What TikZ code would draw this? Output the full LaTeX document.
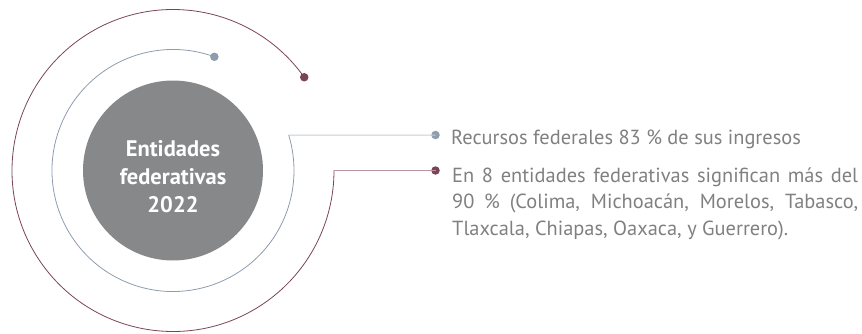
\documentclass[tikz,border=0pt]{standalone}
\usepackage{fontspec}
\setmainfont{PT Sans}
\usetikzlibrary{calc}
\definecolor{ringA}{HTML}{8E9CAC}
\definecolor{lineA}{HTML}{C9CDD3}
\definecolor{ringB}{HTML}{7A4457}
\definecolor{lineB}{HTML}{B8959F}
\definecolor{discfill}{HTML}{87888A}
\definecolor{txtgray}{HTML}{808080}
\begin{document}
\begin{tikzpicture}[x=1pt,y=1pt,
  dotA/.style={circle,fill=ringA,inner sep=0pt,minimum size=8.5pt},
  dotB/.style={circle,fill=ringB,inner sep=0pt,minimum size=8.5pt},
  bodytext/.style={anchor=base west,inner sep=0pt,text=txtgray,font=\fontsize{20.4}{25}\selectfont}]
\useasboundingbox (0,0) rectangle (862,333);
\coordinate (C) at (173,162.5);
\node[circle,fill=discfill,minimum size=180pt,inner sep=0pt] (disc) at (C) {};
\node[text=white,align=center,font=\bfseries\fontsize{22.5}{28}\selectfont] (title) at (173,156) {Entidades\\federativas\\2022};
% inner ring
\node[dotA] (dA) at ($(C)+(70:121)$) {};
\coordinate (jA) at ($(C)+(17:121)$);
\draw[ringA,line width=0.8pt] (dA.center) arc[start angle=70,end angle=377,radius=121];
\node[dotA] (eA) at (435.5,198) {};
\draw[lineA,line width=1pt] (jA) -- (eA.center);
% outer ring
\node[dotB] (dB) at ($(C)+(35.4:161)$) {};
\coordinate (jB) at ($(C)+(0:161)$);
\draw[ringB,line width=0.8pt] (dB.center) arc[start angle=35.4,end angle=360,radius=161];
\node[dotB] (eB) at (435.5,162.5) {};
\draw[lineB,line width=1pt] (jB) -- (eB.center);
% texts
\node[bodytext] (t1) at (451,189) {Recursos federales 83 \% de sus ingresos};
\node[bodytext] (t2a) at (452,150.7) {\makebox[406pt][s]{En 8 entidades federativas significan más del}};
\node[bodytext] (t2b) at (452,124.7) {\makebox[406pt][s]{90 \% (Colima, Michoacán, Morelos, Tabasco,}};
\node[bodytext] (t2c) at (452,98) {Tlaxcala, Chiapas, Oaxaca, y Guerrero).};
\end{tikzpicture}
\end{document}
